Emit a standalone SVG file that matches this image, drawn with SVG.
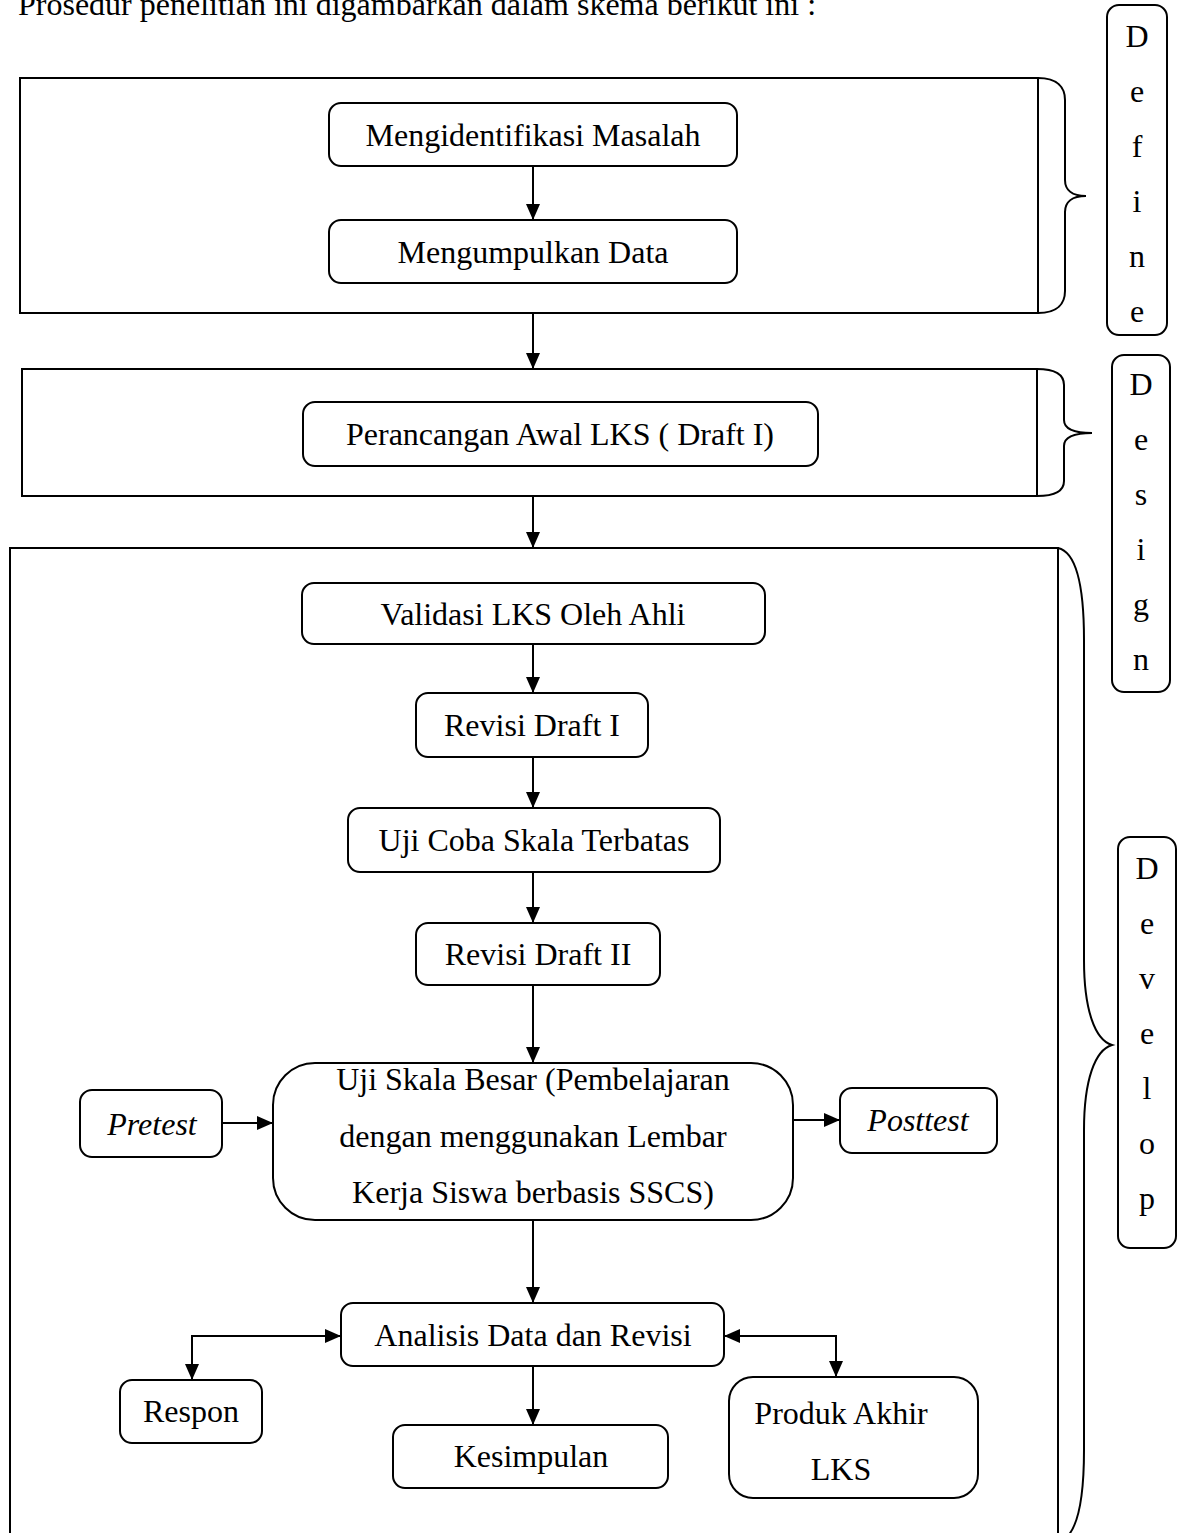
<svg xmlns="http://www.w3.org/2000/svg" width="1179" height="1533" viewBox="0 0 1179 1533">
<style>
text{font-family:"Liberation Serif","Times New Roman",serif;font-size:32px;fill:#000}
.c{text-anchor:middle}
.i{font-style:italic}
.box{fill:none;stroke:#000;stroke-width:2}
.frame{fill:none;stroke:#000;stroke-width:2}
.ln{fill:none;stroke:#000;stroke-width:2}
</style>
<defs>
<marker id="ah" viewBox="0 0 10 10" refX="10" refY="5" markerWidth="8" markerHeight="8" markerUnits="userSpaceOnUse" orient="auto" overflow="visible">
<path d="M0,0 L10,5 L0,10 Z" fill="#000" transform="scale(1)"/>
</marker>
<marker id="a" viewBox="0 0 16 14" refX="16" refY="7" markerWidth="16" markerHeight="14" markerUnits="userSpaceOnUse" orient="auto-start-reverse">
<path d="M0,0 L16,7 L0,14 Z" fill="#000"/>
</marker>
</defs>
<rect width="1179" height="1533" fill="#fff"/>
<text x="18" y="15">Prosedur penelitian ini digambarkan dalam skema berikut ini :</text>

<g id="frame-define">
<rect class="frame" x="20" y="78" width="1018" height="235"/>
<path class="ln" d="M1038,78 C1058,78 1065,88 1065,100 L1065,180 C1065,190 1072,196 1086,196 C1072,196 1065,202 1065,212 L1065,291 C1065,303 1058,313 1038,313"/>
</g>
<g id="frame-design">
<rect class="frame" x="22" y="369" width="1015" height="127"/>
<path class="ln" d="M1037,369 C1057,369 1064,375 1064,385 L1064,420 C1064,428 1072,433 1092,433 C1072,433 1064,438 1064,446 L1064,481 C1064,490 1057,496 1037,496"/>
</g>
<g id="frame-develop">
<rect class="frame" x="10" y="548" width="1048" height="994"/>
<path class="ln" d="M1058,548 C1076,552 1084,585 1084,640 L1084,960 C1084,1010 1095,1040 1112,1045 C1095,1050 1084,1080 1084,1130 L1084,1450 C1084,1505 1076,1538 1058,1542"/>
</g>

<g id="label-define">
<rect class="box" x="1107" y="5" width="60" height="330" rx="12"/>
<text class="c" x="1137" y="47">D</text>
<text class="c" x="1137" y="102">e</text>
<text class="c" x="1137" y="157">f</text>
<text class="c" x="1137" y="212">i</text>
<text class="c" x="1137" y="267">n</text>
<text class="c" x="1137" y="322">e</text>
</g>
<g id="label-design">
<rect class="box" x="1112" y="355" width="58" height="337" rx="12"/>
<text class="c" x="1141" y="395">D</text>
<text class="c" x="1141" y="450">e</text>
<text class="c" x="1141" y="505">s</text>
<text class="c" x="1141" y="560">i</text>
<text class="c" x="1141" y="615">g</text>
<text class="c" x="1141" y="670">n</text>
</g>
<g id="label-develop">
<rect class="box" x="1118" y="837" width="58" height="411" rx="12"/>
<text class="c" x="1147" y="879">D</text>
<text class="c" x="1147" y="934">e</text>
<text class="c" x="1147" y="989">v</text>
<text class="c" x="1147" y="1044">e</text>
<text class="c" x="1147" y="1099">l</text>
<text class="c" x="1147" y="1154">o</text>
<text class="c" x="1147" y="1209">p</text>
</g>

<g id="n1"><rect class="box" x="329" y="103" width="408" height="63" rx="12"/><text class="c" x="533" y="146">Mengidentifikasi Masalah</text></g>
<g id="n2"><rect class="box" x="329" y="220" width="408" height="63" rx="12"/><text class="c" x="533" y="263">Mengumpulkan Data</text></g>
<g id="n3"><rect class="box" x="303" y="402" width="515" height="64" rx="12"/><text class="c" x="560" y="445">Perancangan Awal LKS ( Draft I)</text></g>
<g id="n4"><rect class="box" x="302" y="583" width="463" height="61" rx="12"/><text class="c" x="533" y="625">Validasi LKS Oleh Ahli</text></g>
<g id="n5"><rect class="box" x="416" y="693" width="232" height="64" rx="12"/><text class="c" x="532" y="736">Revisi Draft I</text></g>
<g id="n6"><rect class="box" x="348" y="808" width="372" height="64" rx="12"/><text class="c" x="534" y="851">Uji Coba Skala Terbatas</text></g>
<g id="n7"><rect class="box" x="416" y="923" width="244" height="62" rx="12"/><text class="c" x="538" y="965">Revisi Draft II</text></g>
<g id="n8"><rect class="box" x="273" y="1063" width="520" height="157" rx="42"/>
<text class="c" x="533" y="1090">Uji Skala Besar (Pembelajaran</text>
<text class="c" x="533" y="1147">dengan menggunakan Lembar</text>
<text class="c" x="533" y="1203">Kerja Siswa berbasis SSCS)</text></g>
<g id="n9"><rect class="box" x="80" y="1090" width="142" height="67" rx="12"/><text class="c i" x="152" y="1135">Pretest</text></g>
<g id="n10"><rect class="box" x="840" y="1088" width="157" height="65" rx="12"/><text class="c i" x="918" y="1131">Posttest</text></g>
<g id="n11"><rect class="box" x="341" y="1303" width="383" height="63" rx="12"/><text class="c" x="533" y="1346">Analisis Data dan Revisi</text></g>
<g id="n12"><rect class="box" x="120" y="1380" width="142" height="63" rx="12"/><text class="c" x="191" y="1422">Respon</text></g>
<g id="n13"><rect class="box" x="393" y="1425" width="275" height="63" rx="12"/><text class="c" x="531" y="1467">Kesimpulan</text></g>
<g id="n14"><rect class="box" x="729" y="1377" width="249" height="121" rx="24"/>
<text class="c" x="841" y="1424">Produk Akhir</text>
<text class="c" x="841" y="1480">LKS</text></g>

<g id="connectors">
<path class="ln" d="M533,166 L533,220" marker-end="url(#a)"/>
<path class="ln" d="M533,313 L533,369" marker-end="url(#a)"/>
<path class="ln" d="M533,496 L533,548" marker-end="url(#a)"/>
<path class="ln" d="M533,644 L533,693" marker-end="url(#a)"/>
<path class="ln" d="M533,757 L533,808" marker-end="url(#a)"/>
<path class="ln" d="M533,872 L533,923" marker-end="url(#a)"/>
<path class="ln" d="M533,985 L533,1063" marker-end="url(#a)"/>
<path class="ln" d="M222,1123 L273,1123" marker-end="url(#a)"/>
<path class="ln" d="M793,1120 L840,1120" marker-end="url(#a)"/>
<path class="ln" d="M533,1220 L533,1303" marker-end="url(#a)"/>
<path class="ln" d="M533,1366 L533,1425" marker-end="url(#a)"/>
<path class="ln" d="M341,1336 L192,1336 L192,1380" marker-start="url(#a)" marker-end="url(#a)"/>
<path class="ln" d="M724,1336 L836,1336 L836,1377" marker-start="url(#a)" marker-end="url(#a)"/>
</g>
</svg>
